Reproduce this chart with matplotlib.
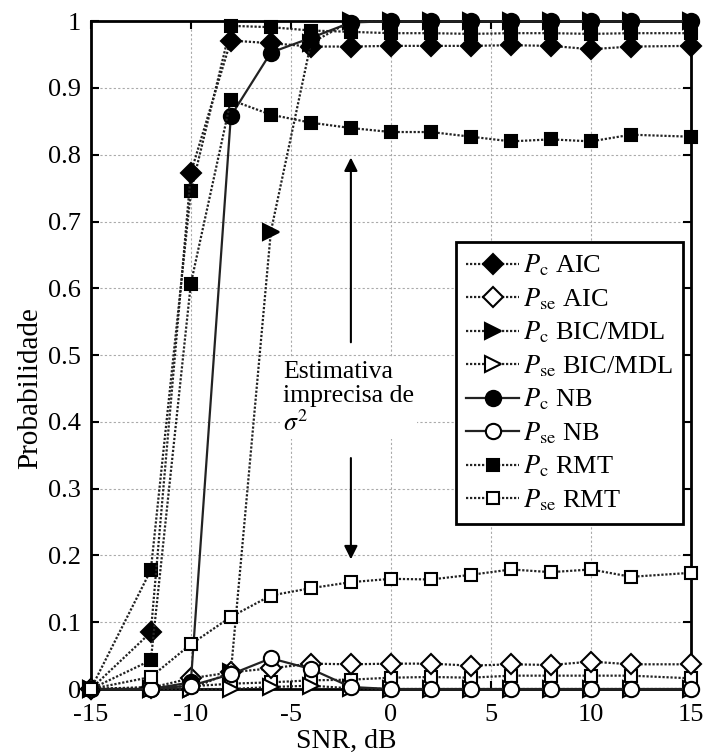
import matplotlib
matplotlib.use("Agg")
import matplotlib.pyplot as plt

plt.rcParams['font.family'] = ['Liberation Serif', 'DejaVu Serif']
plt.rcParams['mathtext.fontset'] = 'stix'

snr = [-15, -12, -10, -8, -6, -4, -2, 0, 2, 4, 6, 8, 10, 12, 15]

pc_aic = [0, 0.085, 0.773, 0.971, 0.967, 0.962, 0.962, 0.963, 0.963, 0.963, 0.964, 0.963, 0.958, 0.962, 0.963]
pse_aic = [0, 0.002, 0.016, 0.025, 0.031, 0.038, 0.037, 0.038, 0.038, 0.035, 0.037, 0.036, 0.041, 0.037, 0.037]
pc_bic = [0, 0, 0, 0.025, 0.685, 0.967, 1.0, 1.0, 1.0, 1.0, 1.0, 1.0, 1.0, 1.0, 1.0]
pse_bic = [0, 0, 0, 0, 0.003, 0.005, 0.001, 0, 0, 0, 0, 0, 0, 0, 0]
pc_nb = [0, 0, 0.01, 0.858, 0.953, 0.975, 0.998, 1.0, 1.0, 1.0, 1.0, 1.0, 1.0, 1.0, 1.0]
pse_nb = [0, 0, 0.005, 0.022, 0.046, 0.03, 0.003, 0, 0, 0, 0, 0, 0, 0, 0]
pc_rmt = [0, 0.043, 0.607, 0.882, 0.86, 0.848, 0.84, 0.834, 0.834, 0.827, 0.82, 0.823, 0.82, 0.83, 0.827]
pse_rmt = [0, 0.018, 0.067, 0.108, 0.14, 0.151, 0.16, 0.165, 0.164, 0.171, 0.179, 0.175, 0.179, 0.168, 0.174]
# additional (unlabelled) curves visible in the figure
pc_extra = [0, 0.178, 0.745, 0.993, 0.991, 0.986, 0.984, 0.982, 0.982, 0.981, 0.982, 0.982, 0.981, 0.982, 0.982]
pse_extra = [0, 0.003, 0.004, 0.008, 0.01, 0.013, 0.014, 0.017, 0.018, 0.017, 0.02, 0.02, 0.02, 0.02, 0.016]

fig = plt.figure(figsize=(7.04, 7.56), dpi=100)
ax = fig.add_axes([0.129, 0.0886, 0.8525, 0.8834])

dot = (0, (1, 0.8))
lc = '#222222'
common = dict(clip_on=False, markeredgecolor='black', markeredgewidth=1.5, color=lc)

ax.plot(snr, pse_extra, linestyle=dot, lw=1.6, marker='s', ms=9, markerfacecolor='white', zorder=3, **common)
ax.plot(snr, pc_extra, linestyle=dot, lw=1.6, marker='s', ms=9, markerfacecolor='black', zorder=3, **common)

ax.plot(snr, pc_aic, linestyle=dot, lw=1.6, marker='D', ms=10, markerfacecolor='black',
        label=r'$P_{\mathrm{c}}$ AIC', zorder=4, **common)
ax.plot(snr, pse_aic, linestyle=dot, lw=1.6, marker='D', ms=10, markerfacecolor='white',
        label=r'$P_{\mathrm{se}}$ AIC', zorder=4, **common)
ax.plot(snr, pc_bic, linestyle=dot, lw=1.6, marker='>', ms=12, markerfacecolor='black',
        label=r'$P_{\mathrm{c}}$ BIC/MDL', zorder=4, **common)
ax.plot(snr, pse_bic, linestyle=dot, lw=1.6, marker='>', ms=12, markerfacecolor='white',
        label=r'$P_{\mathrm{se}}$ BIC/MDL', zorder=4, **common)
ax.plot(snr, pc_nb, linestyle='-', lw=1.6, marker='o', ms=11, markerfacecolor='black',
        label=r'$P_{\mathrm{c}}$ NB', zorder=4, **common)
ax.plot(snr, pse_nb, linestyle='-', lw=1.6, marker='o', ms=11, markerfacecolor='white',
        label=r'$P_{\mathrm{se}}$ NB', zorder=4, **common)
ax.plot(snr, pc_rmt, linestyle=dot, lw=1.6, marker='s', ms=9, markerfacecolor='black',
        label=r'$P_{\mathrm{c}}$ RMT', zorder=5, **common)
ax.plot(snr, pse_rmt, linestyle=dot, lw=1.6, marker='s', ms=9, markerfacecolor='white',
        label=r'$P_{\mathrm{se}}$ RMT', zorder=5, **common)

ax.set_xlim(-15, 15)
ax.set_ylim(0, 1)
ax.set_xticks([-15, -10, -5, 0, 5, 10, 15])
ax.set_yticks([0, 0.1, 0.2, 0.3, 0.4, 0.5, 0.6, 0.7, 0.8, 0.9, 1])
ax.set_yticklabels(['0', '0.1', '0.2', '0.3', '0.4', '0.5', '0.6', '0.7', '0.8', '0.9', '1'])
ax.set_xticklabels(['-15', '-10', '-5', '0', '5', '10', '15'])
ax.tick_params(direction='in', top=True, right=True, length=6, width=1.5, labelsize=19)
ax.tick_params(axis='x', pad=11)
ax.tick_params(axis='y', pad=7)
ax.grid(True, color='#aaaaaa', linestyle=(0, (2, 2)), lw=0.8)
for s in ax.spines.values():
    s.set_linewidth(2)
ax.set_xlabel('SNR, dB', fontsize=20, labelpad=0)
ax.xaxis.set_label_coords(0.425, -0.059)
ax.set_ylabel('Probabilidade', fontsize=21)
ax.yaxis.set_label_coords(-0.08, 0.45)

# annotation
ax.annotate('', xy=(-2, 0.80), xytext=(-2, 0.515),
            arrowprops=dict(arrowstyle='-|>', color='black', lw=1.5, mutation_scale=20), zorder=6)
ax.annotate('', xy=(-2, 0.19), xytext=(-2, 0.35),
            arrowprops=dict(arrowstyle='-|>', color='black', lw=1.5, mutation_scale=20), zorder=6)
ax.text(-5.4, 0.435, 'Estimativa\nimprecisa de\n$\\sigma^2$', fontsize=18.5, ha='left', va='center',
        linespacing=1.15, zorder=7, bbox=dict(facecolor='white', edgecolor='none', pad=2))

leg = ax.legend(loc='upper right', bbox_to_anchor=(0.987, 0.669), fontsize=19, frameon=True,
                fancybox=False, edgecolor='black', framealpha=1, handlelength=2.0,
                handletextpad=0.15, borderpad=0.4, labelspacing=0.3, borderaxespad=0)
leg.get_frame().set_linewidth(2)
leg.set_zorder(10)

fig.savefig('out.png', dpi=100, facecolor='white')
